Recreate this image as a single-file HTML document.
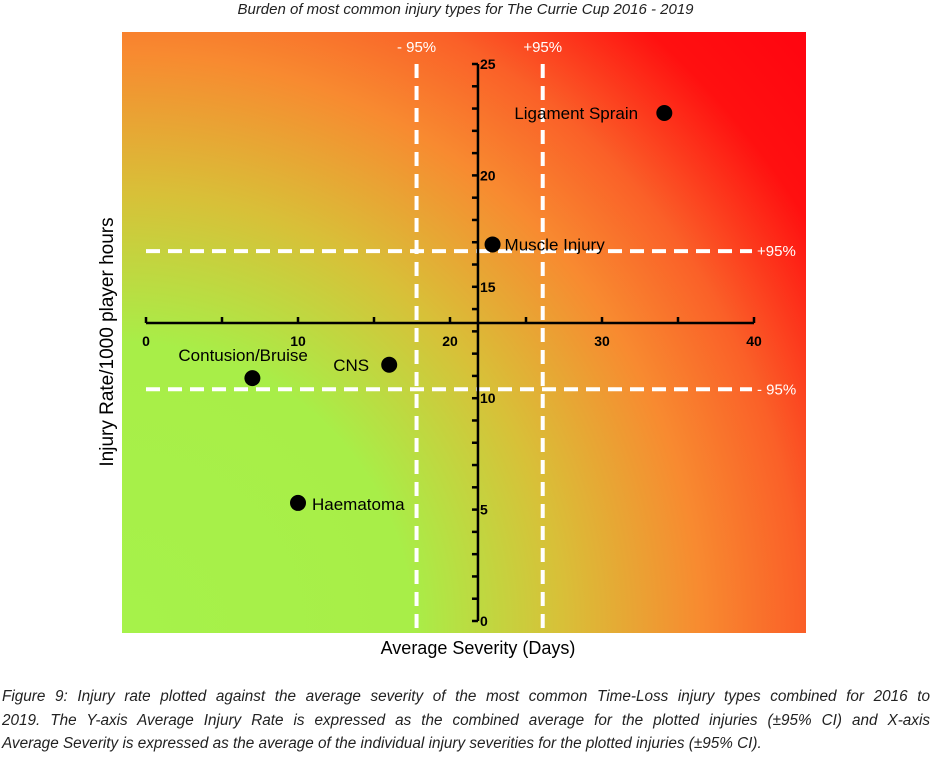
<!DOCTYPE html>
<html><head><meta charset="utf-8"><style>
body{margin:0;background:#fff;width:931px;height:758px;overflow:hidden;font-family:"Liberation Sans",sans-serif}
#plot{position:absolute;left:122px;top:32px;width:684px;height:601px;
background:radial-gradient(circle at 0% 100%,#a6f24a 0px,#a8ee48 290px,#d8c038 440px,#f88a30 580px,#fa6028 680px,#ff1010 800px,#ff0010 950px)}
.t{position:absolute;font-style:italic;font-size:15px;color:#222}
.cl{text-align:justify;text-align-last:justify;white-space:nowrap;height:23.5px}
</style></head><body>
<div class="t" style="left:0;width:931px;text-align:center;top:1px">Burden of most common injury types for The Currie Cup 2016 - 2019</div>
<div id="plot"></div>
<svg id="svg" width="931" height="758" style="position:absolute;left:0;top:0"></svg>
<div class="t" style="left:2px;top:685px;width:928px;line-height:23.5px;font-size:15.3px">
<div class="cl">Figure 9: Injury rate plotted against the average severity of the most common Time-Loss injury types combined for 2016 to</div>
<div class="cl">2019. The Y-axis Average Injury Rate is expressed as the combined average for the plotted injuries (±95% CI) and X-axis</div>
<div style="white-space:nowrap">Average Severity is expressed as the average of the individual injury severities for the plotted injuries (±95% CI).</div>
</div>
<script>
const names=["Ligament Sprain","Muscle Injury","CNS","Contusion/Bruise","Haematoma"];
const sev=[34.1,22.8,16.0,7.0,10.0];
const rate=[22.8,16.9,11.5,10.9,5.3];
const xTicks=[0,10,20,30,40];
const yTicks=[5,10,15,20,25];
const ciX=[17.8,26.1];
const ciY=[16.6,10.4];
const X=v=>146+v*15.2, Y=v=>621-v*22.28;
const s=document.getElementById('svg');const NS="http://www.w3.org/2000/svg";
function mk(t,a,txt){const e=document.createElementNS(NS,t);for(const k in a)e.setAttribute(k,a[k]);if(txt!=null)e.textContent=txt;s.appendChild(e);return e;}
const ax=21.84;
ciX.forEach((v,i)=>{const e=mk('line',{x1:X(v),x2:X(v),y1:64,y2:633,stroke:'#fff','stroke-width':4,'stroke-dasharray':'14 8'});


const t=mk('text',{x:X(v),y:52,'text-anchor':'middle',fill:'#fff','font-size':15},i?'+95%':'- 95%');

});
ciY.forEach((v,i)=>{const e=mk('line',{x1:146,x2:752,y1:Y(v),y2:Y(v),stroke:'#fff','stroke-width':4,'stroke-dasharray':'14 8'});


const t=mk('text',{x:757,y:Y(v)+5,fill:'#fff','font-size':15},i?'- 95%':'+95%');

});
const xAxisY=323;
const xa=mk('line',{x1:X(0),x2:X(40),y1:xAxisY,y2:xAxisY,stroke:'#000','stroke-width':2.5});


for(let v=0;v<=40;v+=5){const e=mk('line',{x1:X(v),x2:X(v),y1:xAxisY,y2:xAxisY-6,stroke:'#000','stroke-width':2.5});

}
xTicks.forEach(v=>{const t=mk('text',{x:X(v),y:xAxisY+23,'text-anchor':'middle','font-size':14,'font-weight':'bold'},v);

});
const yl=mk('line',{x1:X(ax),x2:X(ax),y1:Y(25),y2:Y(0),stroke:'#000','stroke-width':2.5});


for(let v=0;v<=25;v++){const e=mk('line',{x1:X(ax),x2:X(ax)-6,y1:Y(v),y2:Y(v),stroke:'#000','stroke-width':2.5});

}
yTicks.concat([0]).forEach(v=>{const t=mk('text',{x:X(ax)+2,y:Y(v)+5,'font-size':14,'font-weight':'bold'},v);

});
const lab=[[-150,5],[12,5],[-56,5],[-74,-18],[14,6]];
names.forEach((n,i)=>{const c=mk('circle',{cx:X(sev[i]),cy:Y(rate[i]),r:8,fill:'#000'});


const t=mk('text',{x:X(sev[i])+lab[i][0],y:Y(rate[i])+lab[i][1]+1,'font-size':17},n);

});
const xt=mk('text',{x:478,y:654,'text-anchor':'middle','font-size':18},'Average Severity (Days)');


const yt=mk('text',{x:0,y:0,'text-anchor':'middle','font-size':19,transform:'translate(113,342) rotate(-90)'},'Injury Rate/1000 player hours');


</script>
</body></html>
